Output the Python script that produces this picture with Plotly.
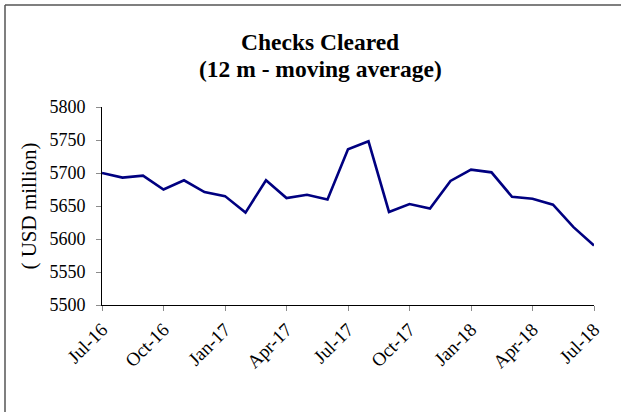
import plotly.graph_objects as go

months = ["Jul-16", "Aug-16", "Sep-16", "Oct-16", "Nov-16", "Dec-16",
          "Jan-17", "Feb-17", "Mar-17", "Apr-17", "May-17", "Jun-17",
          "Jul-17", "Aug-17", "Sep-17", "Oct-17", "Nov-17", "Dec-17",
          "Jan-18", "Feb-18", "Mar-18", "Apr-18", "May-18", "Jun-18", "Jul-18"]
checks_cleared = [5700, 5693, 5696, 5675, 5689, 5671, 5665, 5640, 5689, 5662,
                  5667, 5660, 5736, 5748, 5641, 5653, 5646, 5688, 5705, 5701,
                  5664, 5661, 5652, 5618, 5590]
tick_labels = months[::3]
y_ticks = [5500, 5550, 5600, 5650, 5700, 5750, 5800]
title_lines = ["Checks Cleared", "(12 m - moving average)"]

FONT = "Liberation Serif"

fig = go.Figure()
fig.add_trace(go.Scatter(
    x=months, y=checks_cleared, mode="lines",
    line=dict(color="#000080", width=2.6),
    showlegend=False, hoverinfo="x+y"))

W, H = 621, 412
L, R, T, B = 102, 27, 107, 107
pw, ph = W - L - R, H - T - B

def px_x(x):
    return (x - L) / pw

def px_y(y):
    return (H - B - y) / ph

annotations = []
for line_text, ymid in zip(title_lines, [42, 69]):
    annotations.append(dict(
        text="<b>%s</b>" % line_text, showarrow=False,
        xref="paper", yref="paper", x=px_x(320), y=px_y(ymid),
        xanchor="center", yanchor="middle",
        font=dict(family=FONT, size=23.5, color="black")))

fig.update_layout(
    width=W, height=H,
    margin=dict(l=L, r=R, t=T, b=B, pad=0),
    paper_bgcolor="white", plot_bgcolor="white",
    font=dict(family=FONT, color="black", size=18),
    annotations=annotations,
    xaxis=dict(
        type="category", range=[0, len(months) - 1],
        tickmode="array", tickvals=tick_labels, ticktext=tick_labels,
        tickangle=-45, ticks="outside", ticklen=5, tickcolor="#8c8c8c",
        showline=True, linecolor="black", linewidth=1,
        showgrid=False, zeroline=False,
        tickfont=dict(family=FONT, size=19, color="black")),
    yaxis=dict(
        range=[5500, 5800], tickmode="array", tickvals=y_ticks,
        ticks="outside", ticklen=5, tickcolor="#8c8c8c",
        showline=True, linecolor="black", linewidth=1,
        showgrid=False, zeroline=False, ticklabelstandoff=7,
        tickfont=dict(family=FONT, size=18, color="black"),
        title=dict(text="( USD million)", standoff=7,
                   font=dict(family=FONT, size=21, color="black"))),
    shapes=[
        dict(type="line", xref="paper", yref="paper",
             x0=px_x(5), x1=px_x(W + 5), y0=px_y(5), y1=px_y(5),
             line=dict(color="#555555", width=1.5)),
        dict(type="line", xref="paper", yref="paper",
             x0=px_x(5), x1=px_x(5), y0=px_y(5), y1=px_y(H + 5),
             line=dict(color="#555555", width=1.5)),
    ],
)

fig.write_html("out.html", config={"displayModeBar": False},
               post_script="document.body.style.margin='0';")
